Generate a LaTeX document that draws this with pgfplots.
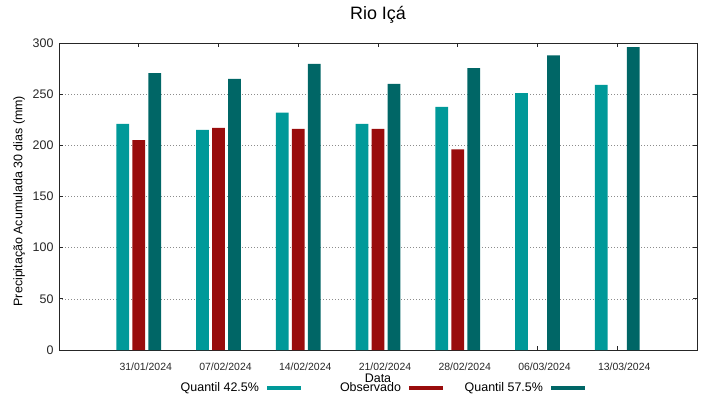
\documentclass[border=0pt]{standalone}
\usepackage{fontspec}
\setmainfont{Liberation Sans}
\usepackage{pgfplots}
\pgfplotsset{compat=1.18}
\definecolor{cA}{RGB}{0,153,153}
\definecolor{cB}{RGB}{153,12,12}
\definecolor{cC}{RGB}{0,102,102}
\begin{document}
\begin{tikzpicture}
\useasboundingbox (-59bp,-49bp) rectangle (660bp,350bp);
\begin{axis}[
  at={(0,0)}, anchor=south west,
  scale only axis, width=638bp, height=307bp,
  xmin=-1, xmax=7, ymin=0, ymax=300,
  xtick={0,1,2,3,4,5,6},
  xticklabels={31/01/2024,07/02/2024,14/02/2024,21/02/2024,28/02/2024,06/03/2024,13/03/2024},
  ytick={0,50,100,150,200,250,300},
  tick align=inside, major tick length=4bp,
  ymajorgrids, grid style={black!45, line width=0.6bp, dash pattern=on 1bp off 2bp},
  axis line style={black!85, line width=0.8bp},
  tick style={black!85, line width=0.8bp},
  /pgf/number format/assume math mode=true,
  yticklabel style={font=\fontsize{12.5}{14}\selectfont, text=black!85, xshift=-2bp},
  xticklabel style={font=\fontsize{10.5}{12}\selectfont, text=black!85, xshift=7bp, yshift=-9bp},
  title={Rio Içá},
  title style={font=\fontsize{18}{21}\selectfont, at={(axis description cs:0.5,1)}, anchor=center, yshift=22bp},
  xlabel={Data},
  xlabel style={font=\fontsize{12.5}{14}\selectfont, at={(axis description cs:0.5,-0.093)}, anchor=center, inner sep=0pt},
  ylabel={Precipitação Acumulada 30 dias (mm)},
  ylabel style={font=\fontsize{12.5}{14}\selectfont, at={(axis description cs:-0.0625,0.485)}, anchor=center, inner sep=0pt},
  legend columns=3,
  legend plot pos=right,
  legend cell align=right,
  legend style={draw=none, fill=none, at={(axis description cs:0.507,-0.124)}, anchor=center,
    font=\fontsize{12.5}{14}\selectfont, column sep=0pt, nodes={inner sep=0pt},
    /tikz/every odd column/.append style={column sep=8bp},
    /tikz/every even column/.append style={column sep=21bp}},
]
\addplot[ybar, bar width=12.7bp, bar shift=-16bp, fill=cA, draw=none,
  legend image code/.code={\fill[cA] (0bp,-2.2bp) rectangle (34bp,2.2bp);}]
  coordinates {(0,221) (1,215) (2,232) (3,221) (4,237.5) (5,251) (6,259)};
\addlegendentry{\makebox[79bp][r]{Quantil 42.5\%}}
\addplot[ybar, bar width=12.7bp, bar shift=0bp, fill=cB, draw=none,
  legend image code/.code={\fill[cB] (0bp,-2.2bp) rectangle (34bp,2.2bp);}]
  coordinates {(0,205) (1,217) (2,216) (3,216) (4,196)};
\addlegendentry{\makebox[79bp][r]{Observado}}
\addplot[ybar, bar width=12.7bp, bar shift=16bp, fill=cC, draw=none,
  legend image code/.code={\fill[cC] (0bp,-2.2bp) rectangle (34bp,2.2bp);}]
  coordinates {(0,270.5) (1,265) (2,279.5) (3,260) (4,275.5) (5,288) (6,296)};
\addlegendentry{\makebox[79bp][r]{Quantil 57.5\%}}
\end{axis}
\end{tikzpicture}
\end{document}
